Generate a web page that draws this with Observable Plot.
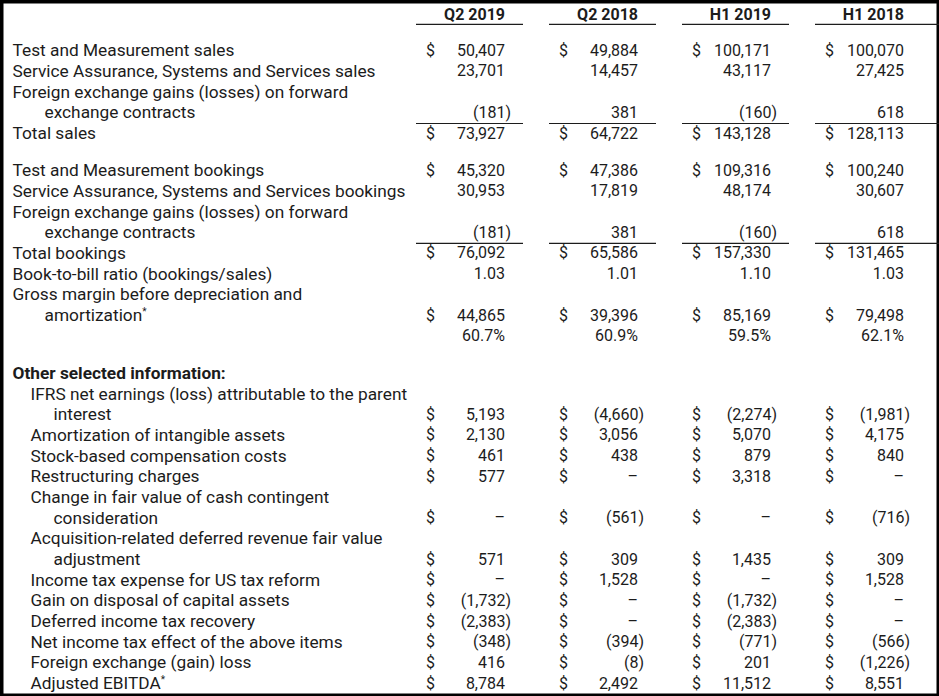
<!DOCTYPE html>
<html>
<head>
<meta charset="utf-8">
<script src="https://cdn.jsdelivr.net/npm/d3@7"></script>
<script src="https://cdn.jsdelivr.net/npm/@observablehq/plot@0.6"></script>
<style>
  html, body { margin: 0; padding: 0; background: #fff; }
  svg { display: block; }
</style>
</head>
<body>
<div id="chart"></div>
<script>
// ---- Data ----
const columns = ["Q2 2019", "Q2 2018", "H1 2019", "H1 2018"];

const rowLabels = [
  "Test and Measurement sales",
  "Service Assurance, Systems and Services sales",
  "Foreign exchange gains (losses) on forward\nexchange contracts",
  "Total sales",
  "Test and Measurement bookings",
  "Service Assurance, Systems and Services bookings",
  "Foreign exchange gains (losses) on forward\nexchange contracts",
  "Total bookings",
  "Book-to-bill ratio (bookings/sales)",
  "Gross margin before depreciation and\namortization*",
  "",
  "Other selected information:",
  "IFRS net earnings (loss) attributable to the parent\ninterest",
  "Amortization of intangible assets",
  "Stock-based compensation costs",
  "Restructuring charges",
  "Change in fair value of cash contingent\nconsideration",
  "Acquisition-related deferred revenue fair value\nadjustment",
  "Income tax expense for US tax reform",
  "Gain on disposal of capital assets",
  "Deferred income tax recovery",
  "Net income tax effect of the above items",
  "Foreign exchange (gain) loss",
  "Adjusted EBITDA*"
];

const rowFormat = ["amount","amount","amount","amount","amount","amount","amount","amount","ratio","amount","percent","heading",
  "amount","amount","amount","amount","amount","amount","amount","amount","amount","amount","amount","amount"];
const rowDollar = [true,false,false,true,true,false,false,true,false,true,false,false,
  true,true,true,true,true,true,true,true,true,true,true,true];
const rowLevel = [0,0,0,0,0,0,0,0,0,0,0,0, 1,1,1,1,1,1,1,1,1,1,1,1];
const totalRows = [3, 7];
const gapBefore = [4, 11];

const q2_2019 = [50407, 23701, -181, 73927, 45320, 30953, -181, 76092, 1.03, 44865, 60.7, null,
  5193, 2130, 461, 577, 0, 571, 0, -1732, -2383, -348, 416, 8784];
const q2_2018 = [49884, 14457, 381, 64722, 47386, 17819, 381, 65586, 1.01, 39396, 60.9, null,
  -4660, 3056, 438, 0, -561, 309, 1528, 0, 0, -394, -8, 2492];
const h1_2019 = [100171, 43117, -160, 143128, 109316, 48174, -160, 157330, 1.10, 85169, 59.5, null,
  -2274, 5070, 879, 3318, 0, 1435, 0, -1732, -2383, -771, 201, 11512];
const h1_2018 = [100070, 27425, 618, 128113, 100240, 30607, 618, 131465, 1.03, 79498, 62.1, null,
  -1981, 4175, 840, 0, -716, 309, 1528, 0, 0, -566, -1226, 8551];
const seriesValues = [q2_2019, q2_2018, h1_2019, h1_2018];

// ---- Layout (computed) ----
const headerU = -1.75;
const labelLines = [];
const rowU = [];
let u = 0;
rowLabels.forEach((label, i) => {
  if (gapBefore.includes(i)) u += 0.8;
  const parts = label.split("\n");
  parts.forEach((p, j) => labelLines.push({
    text: p, u: u + j, level: rowLevel[i], cont: j > 0, bold: rowFormat[i] === "heading"
  }));
  rowU[i] = u + parts.length - 1;
  u += parts.length;
});

const fmtInt = d3.format(",");
function fmt(v, kind) {
  if (kind === "ratio") return d3.format(".2f")(v);
  if (kind === "percent") return d3.format(".1f")(v) + "%";
  if (v === 0) return "–";
  if (v < 0) return "(" + fmtInt(-v) + ")";
  return fmtInt(v);
}

const cells = [];
const dollars = [];
columns.forEach((col, c) => {
  seriesValues[c].forEach((v, i) => {
    if (v == null) return;
    cells.push({col, u: rowU[i], text: fmt(v, rowFormat[i]), neg: rowFormat[i] === "amount" && v < 0});
    if (rowDollar[i]) dollars.push({col, u: rowU[i]});
  });
});

const rules = [];
columns.forEach(col => {
  rules.push({col, u: headerU + 0.48});
  totalRows.forEach(i => rules.push({col, u: rowU[i] - 0.48}));
});

const textColor = "#1c1c1c";
const labelSize = 17.3;
const numSize = 16;

const labelGroup = (level, cont, dx) => Plot.text(
  labelLines.filter(d => !d.bold && d.level === level && d.cont === cont),
  {frameAnchor: "left", y: "u", text: "text", textAnchor: "start", dx, fontSize: labelSize}
);

const chart = Plot.plot({
  width: 939,
  height: 696,
  margin: 0,
  style: {fontFamily: "Roboto, sans-serif", fontSize: "16px", color: textColor, background: "#fff"},
  x: {type: "band", domain: columns, range: [415, 948], padding: 0, axis: null},
  y: {type: "linear", domain: [headerU, 30.6], range: [14, 683], axis: null},
  marks: [
    Plot.frame({stroke: "#000", strokeWidth: 6}),
    // header underlines + total rules
    Plot.tickY(rules.filter(d => d.col !== "H1 2018"), {x: "col", y: "u", stroke: textColor, strokeWidth: 1.2, insetRight: 26}),
    Plot.tickY(rules.filter(d => d.col === "H1 2018"), {x: "col", y: "u", stroke: textColor, strokeWidth: 1.2, insetRight: 9}),
    // column headers
    Plot.text(columns, {x: d => d, y: () => headerU, text: d => d, textAnchor: "end", dx: 22, fontWeight: "bold", fontSize: numSize}),
    // row labels
    labelGroup(0, false, 12),
    labelGroup(0, true, 44),
    labelGroup(1, false, 30),
    labelGroup(1, true, 53),
    Plot.text(labelLines.filter(d => d.bold), {frameAnchor: "left", y: "u", text: "text", textAnchor: "start", dx: 12, fontWeight: "bold", fontSize: labelSize}),
    // dollar signs
    Plot.text(dollars, {x: "col", y: "u", text: () => "$", textAnchor: "middle", dx: -52.5, fontSize: numSize}),
    // values
    Plot.text(cells.filter(d => !d.neg), {x: "col", y: "u", text: "text", textAnchor: "end", dx: 22, fontSize: numSize}),
    Plot.text(cells.filter(d => d.neg), {x: "col", y: "u", text: "text", textAnchor: "end", dx: 28, fontSize: numSize})
  ]
});

// superscript asterisks
chart.querySelectorAll("text").forEach(t => {
  const s = t.textContent;
  if (s.endsWith("*") && t.children.length === 0) {
    t.textContent = "";
    const a = document.createElementNS("http://www.w3.org/2000/svg", "tspan");
    a.textContent = s.slice(0, -1);
    const b = document.createElementNS("http://www.w3.org/2000/svg", "tspan");
    b.textContent = "*";
    b.setAttribute("font-size", "10");
    b.setAttribute("dy", "-6");
    t.appendChild(a);
    t.appendChild(b);
  }
});

document.getElementById("chart").appendChild(chart);
</script>
</body>
</html>
